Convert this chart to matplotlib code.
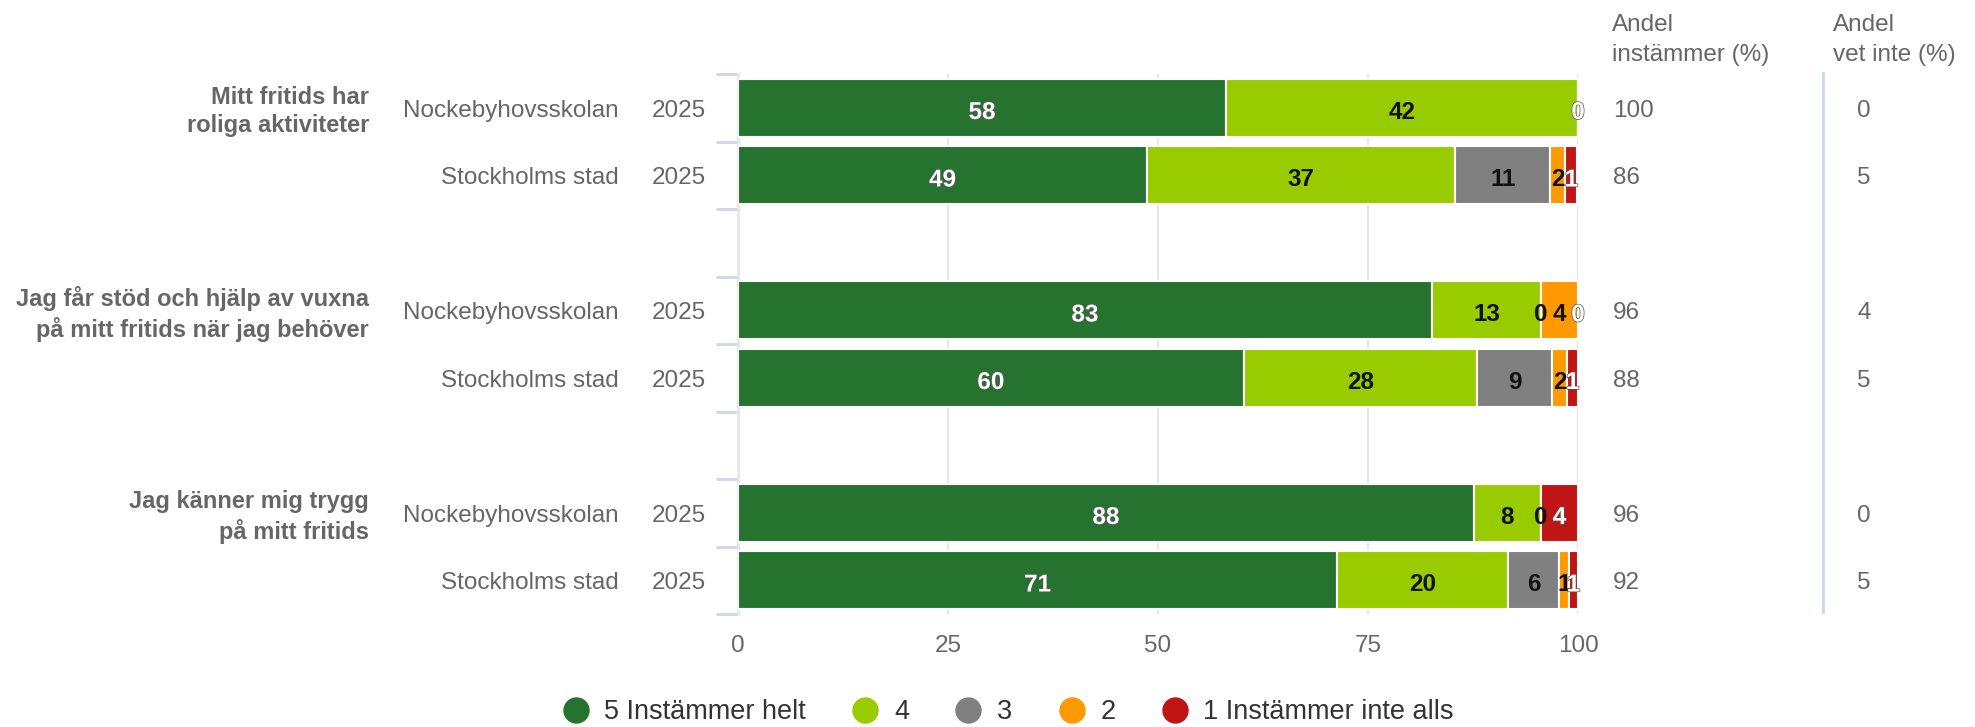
import matplotlib
matplotlib.use("Agg")
import matplotlib.pyplot as plt
from matplotlib.lines import Line2D
import matplotlib.patheffects as pe

plt.rcParams['font.family'] = ['Liberation Sans', 'DejaVu Sans']

# data
groups = ['Mitt fritids har\nroliga aktiviteter',
          'Jag får stöd och hjälp av vuxna\npå mitt fritids när jag behöver',
          'Jag känner mig trygg\npå mitt fritids']
units = ['Nockebyhovsskolan', 'Stockholms stad']
year = '2025'
series = ['5 Instämmer helt', '4', '3', '2', '1 Instämmer inte alls']
colors = ['#267330', '#99cc00', '#808080', '#ff9900', '#bf1515']
label_colors = ['white', '#111111', '#111111', '#111111', 'white']

# one row per bar, top to bottom; values per series
s5 = [58.1, 48.7, 82.6, 60.2, 87.6, 71.3]
s4 = [41.9, 36.7, 13.0, 27.8, 8.0, 20.4]
s3 = [0.0, 11.3, 0.0, 8.9, 0.0, 6.0]
s2 = [0.0, 1.8, 4.4, 1.8, 0.0, 1.2]
s1 = [0.0, 1.4, 0.0, 1.3, 4.4, 1.1]
andel_instammer = [100, 86, 96, 88, 96, 92]
andel_vet_inte = [0, 5, 4, 5, 0, 5]
# zero labels hidden by overlap (row, series index)
hidden = [(0, 2), (0, 3), (4, 3)]

values = [s5, s4, s3, s2, s1]

# y positions: 8 categories, empty slot between groups
ypos = [0, 1, 3, 4, 6, 7]

W, H = 1975, 727
fig = plt.figure(figsize=(W / 100, H / 100), dpi=100)
ax = fig.add_axes([738 / W, 1 - 614 / H, 840 / W, 540 / H])

txt = '#666666'
dy = 0.07  # text sits a little low in the original
for r, y in enumerate(ypos):
    left = 0
    for k in range(5):
        v = values[k][r]
        ax.barh(y, v, left=left, height=0.86, color=colors[k],
                edgecolor='white', linewidth=1.5, zorder=3)
        if (r, k) not in hidden:
            lab = '%d' % round(v + 1e-9)
            fx = []
            if label_colors[k] == 'white':
                fx = [pe.withStroke(linewidth=1, foreground='#555555')]
            ax.text(left + v / 2, y + dy, lab, ha='center', va='center',
                    fontsize=17.5, fontweight='bold', color=label_colors[k],
                    zorder=5, clip_on=False, path_effects=fx)
        left += v

ax.set_xlim(0, 100)
ax.set_ylim(7.5, -0.5)
ax.set_xticks([0, 25, 50, 75, 100])
ax.tick_params(axis='x', length=0, labelsize=17.5, labelcolor=txt, pad=15)
ax.grid(axis='x', color='#e6e6e6', linewidth=1.5, zorder=0)
ax.set_yticks([i - 0.5 for i in range(9)])
ax.set_yticklabels([])
ax.tick_params(axis='y', length=16, width=2, color='#ccd6eb', direction='out')
for s in ['top', 'right', 'bottom']:
    ax.spines[s].set_visible(False)
ax.spines['left'].set_color('#e6e6e6')
ax.spines['left'].set_linewidth(2)

# row labels
off = 3 / H
for r, y in enumerate(ypos):
    yf = ax.transData.transform((0, y))[1] / H - off
    fig.text(619 / W, yf, units[r % 2], ha='right', va='center',
             fontsize=17.5, color=txt)
    fig.text(706 / W, yf, year, ha='right', va='center',
             fontsize=17.5, color=txt)
    fig.text(1613 / W, yf, str(andel_instammer[r]), ha='left', va='center',
             fontsize=17.5, color=txt)
    fig.text(1864 / W, yf, str(andel_vet_inte[r]), ha='center', va='center',
             fontsize=17.5, color=txt)

for g, name in enumerate(groups):
    yf = ax.transData.transform((0, ypos[2 * g]))[1] / H - 4 / H
    fig.text(369 / W, yf, name, ha='right', va='center', fontsize=17,
             fontweight='bold', color=txt, linespacing=1.3)

# column headers
fig.text(1612 / W, 1 - 40 / H, 'Andel\ninstämmer (%)', ha='left',
         va='center', fontsize=17.5, color=txt, linespacing=1.45)
fig.text(1833 / W, 1 - 40 / H, 'Andel\nvet inte (%)', ha='left',
         va='center', fontsize=17.5, color=txt, linespacing=1.45)
fig.add_artist(Line2D([1823 / W, 1823 / W], [1 - 73 / H, 1 - 612 / H],
                      color='#ccd6eb', linewidth=2))

# legend
handles = [Line2D([], [], marker='o', linestyle='none', markersize=18,
                  markerfacecolor=c, markeredgecolor=c) for c in colors]
fig.legend(handles, series, loc='center', bbox_to_anchor=(1008 / W, 1 - 712 / H),
           ncol=5, frameon=False, fontsize=19.5, handlelength=1.0,
           handletextpad=0.55, columnspacing=1.7, labelcolor='#333333')

fig.savefig('out.png', dpi=100)
